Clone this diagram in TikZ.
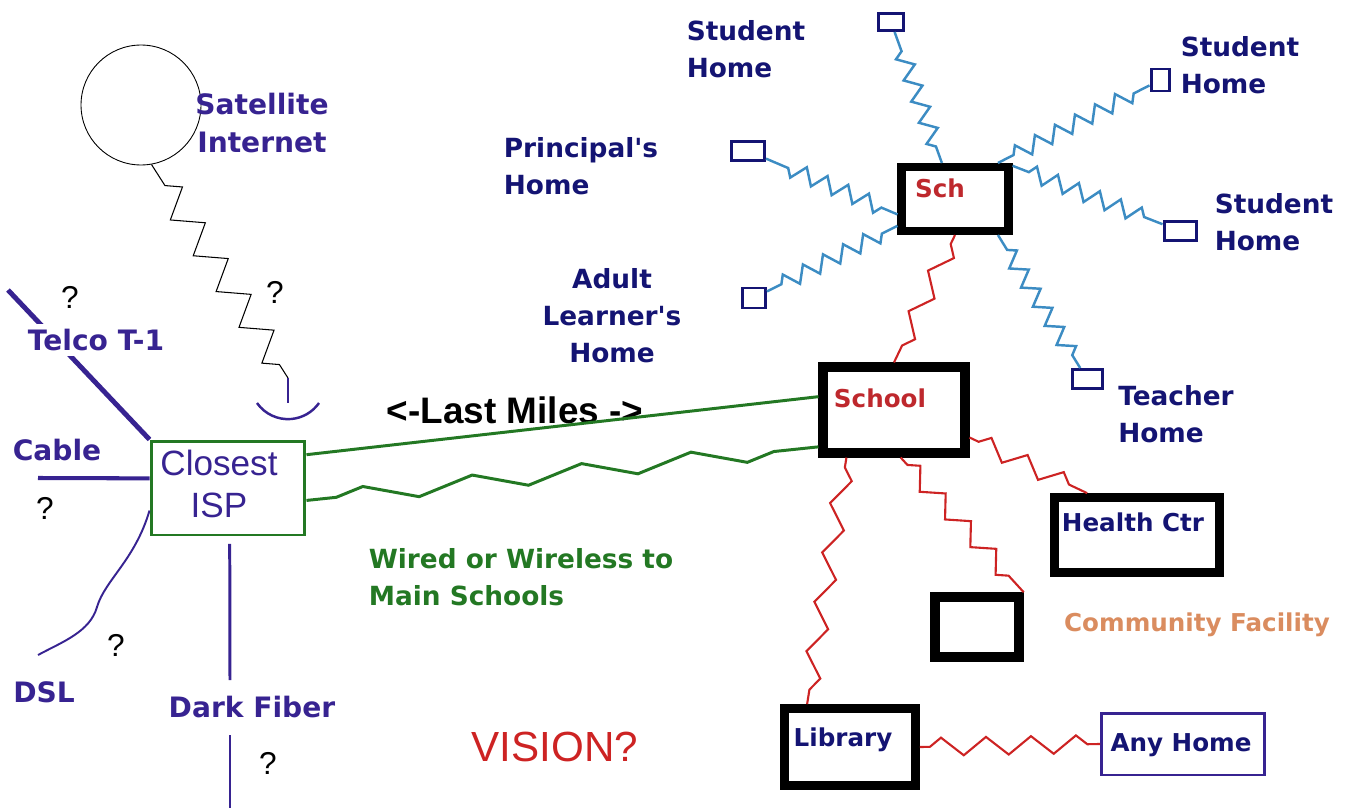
\documentclass[tikz,border=0pt]{standalone}
\usepackage{fontspec}
\setmainfont{DejaVu Sans}[Ligatures=TeXOff]
\newfontfamily\arialfont{Liberation Sans}
\usetikzlibrary{decorations.pathmorphing}
\definecolor{navy}{RGB}{20,20,115}
\definecolor{ispviolet}{RGB}{55,35,145}
\definecolor{linkgreen}{RGB}{35,120,35}
\definecolor{homeblue}{RGB}{60,140,195}
\definecolor{boltred}{RGB}{205,35,35}
\definecolor{schoolred}{RGB}{190,40,45}
\definecolor{facility}{RGB}{218,140,95}

\begin{document}
\begin{tikzpicture}[x = 0.02cm, y = -0.02cm,
		place/.style = {draw, line width = 5pt, inner sep = 0},
		home/.style = {draw = navy, line width = 1.7pt, inner sep = 0},
		tag/.style = {font = \bfseries\fontsize{15}{21}\selectfont, text = navy, align = left, inner sep = 0},
		isptag/.style = {font = \bfseries\fontsize{16}{22}\selectfont, text = ispviolet, inner sep = 1pt},
		boxtag/.style = {font = \bfseries\fontsize{14}{16}\selectfont, inner sep = 0},
		ask/.style = {font = \arialfont\fontsize{18}{18}\selectfont, inner sep = 0},
		wire/.style = {draw = ispviolet},
		homelink/.style = {decorate, draw = homeblue, line width = 1.4pt, decoration = {zigzag, segment length = 0.45cm, amplitude = 0.16cm, pre length = 0.35cm, post length = 0.3cm}},
		bolt/.style = {decorate, draw = boltred, line width = 1.2pt, decoration = {zigzag, segment length = 0.9cm, amplitude = 0.18cm, pre length = 0.2cm, post length = 0.2cm}}
	]
	\useasboundingbox (0, 0) rectangle (1346, 808);

	\node [draw, circle, line width = 0.5pt, minimum size = 2.4cm] (sat) at (141, 105) {};
	\node [isptag, align = center] (satname) at (262, 123) {Satellite\\Internet};
	\coordinate (dishtop) at (288, 378);
	\coordinate (dish) at (288, 403);
	\node [ask] (q1) at (275, 292) {?};

	\node [draw = linkgreen, line width = 1.7pt, minimum width = 3.08cm, minimum height = 1.88cm, inner sep = 0] (isp) at (228, 488) {};
	\node [font = \arialfont\fontsize{20}{24}\selectfont, text = ispviolet, align = center, inner sep = 0] (ispname) at (219, 484) {Closest\\ISP};

	\coordinate (telcoend) at (8, 290);
	\coordinate (cableend) at (38, 478);
	\coordinate (dslmid) at (97, 607);
	\coordinate (dslend) at (38, 655);
	\coordinate (fibtop) at (230, 680);
	\coordinate (fibstart) at (230, 735);
	\coordinate (fibend) at (230, 812);

	\draw [decorate, line width = 0.6pt, decoration = {zigzag, segment length = 0.85cm, amplitude = 0.28cm, pre length = 0.5cm, post length = 0.1cm}] (sat.-80) to (dishtop);
	\draw [wire, line width = 1.4pt] (dishtop) to (dish);
	\draw [wire, line width = 1.4pt] ([xshift = -0.62cm] dish) arc [start angle = 215, end angle = 325, radius = 0.757cm];

	\draw [wire, line width = 2.8pt] (telcoend) to (isp.north west);
	\draw [wire, line width = 2.3pt] (cableend) to (isp.173);
	\draw [wire, line width = 1.1pt] (isp.196) .. controls (135, 560) and (105, 580) .. (dslmid) .. controls (90, 632) and (62, 642) .. (dslend);
	\draw [wire, line width = 1.7pt, shorten <= 0.15cm] (isp.-88) to (fibtop);
	\draw [wire, line width = 1.7pt] (fibstart) to (fibend);

	\node [isptag, fill = white, inner sep = 3pt] (telco) at (96, 340) {Telco T-1};
	\node [ask] (q2) at (70, 297) {?};
	\node [isptag] (cable) at (57, 450) {Cable};
	\node [ask] (q3) at (45, 508) {?};
	\node [ask] (q4) at (116, 645) {?};
	\node [isptag] (dsl) at (44, 692) {DSL};
	\node [isptag] (fiber) at (252, 707) {Dark Fiber};
	\node [ask] (q5) at (268, 763) {?};

	\node [font = \arialfont\bfseries\fontsize{21}{24}\selectfont, inner sep = 0] (lastmiles) at (515, 410) {<-Last Miles ->};
	\node [tag, text = linkgreen] (wired) at (521, 577) {Wired or Wireless to\\Main Schools};
	\node [font = \arialfont\fontsize{24}{26}\selectfont, text = boltred, inner sep = 0] (vision) at (555, 747) {VISION?};

	\node [place, line width = 4.6pt, minimum width = 2.14cm, minimum height = 1.28cm] (sch) at (955, 199) {};
	\node [place, line width = 5.2pt, minimum width = 2.84cm, minimum height = 1.72cm] (school) at (894, 410) {};
	\node [place, minimum width = 3.30cm, minimum height = 1.50cm] (health) at (1137, 535) {};
	\node [place, line width = 5.4pt, minimum width = 1.68cm, minimum height = 1.20cm] (community) at (977, 627) {};
	\node [place, minimum width = 2.62cm, minimum height = 1.54cm] (library) at (850, 747) {};
	\node [draw = ispviolet, line width = 1.7pt, minimum width = 3.26cm, minimum height = 1.24cm, inner sep = 0] (anyhome) at (1183, 744) {};

	\node [boxtag, text = schoolred] (schname) at (940, 188) {Sch};
	\node [boxtag, text = schoolred] (schoolname) at (880, 398) {School};
	\node [boxtag, text = navy] (healthname) at (1133, 522) {Health Ctr};
	\node [boxtag, text = facility] (facilityname) at (1197, 625) {Community Facility};
	\node [boxtag, text = navy] (libraryname) at (843, 740) {Library};
	\node [boxtag, text = navy] (anyhomename) at (1181, 745) {Any Home};

	\node [home, minimum width = 0.50cm, minimum height = 0.34cm] (hs1) at (891, 22) {};
	\node [home, minimum width = 0.36cm, minimum height = 0.44cm] (hs2) at (1160, 80) {};
	\node [home, minimum width = 0.66cm, minimum height = 0.38cm] (hp) at (748, 151) {};
	\node [home, minimum width = 0.64cm, minimum height = 0.38cm] (hs3) at (1180, 231) {};
	\node [home, minimum width = 0.46cm, minimum height = 0.40cm] (ha) at (754, 298) {};
	\node [home, minimum width = 0.60cm, minimum height = 0.38cm] (ht) at (1087, 379) {};

	\node [tag] (hs1name) at (746, 49) {Student\\Home};
	\node [tag] (hs2name) at (1240, 65) {Student\\Home};
	\node [tag] (hpname) at (581, 166) {Principal's\\Home};
	\node [tag] (hs3name) at (1274, 222) {Student\\Home};
	\node [tag, align = center] (haname) at (612, 316) {Adult\\Learner's\\Home};
	\node [tag] (htname) at (1176, 414) {Teacher\\Home};

	\draw [homelink] (sch.110) to (hs1);
	\draw [homelink] (sch.40) to (hs2);
	\draw [homelink] (sch.195) to (hp);
	\draw [homelink] (sch.30) to (hs3);
	\draw [homelink] (sch.205) to (ha);
	\draw [homelink] (sch.-40) to (ht);

	\draw [bolt] (sch.south) to (school.north);
	\draw [bolt, decoration = {segment length = 1cm}] (school.225) to (library.135);
	\draw [bolt, decoration = {segment length = 0.75cm}] (school.-82) to (community.north east);
	\draw [bolt, decoration = {segment length = 0.8cm}] (school.-20) to (health.140);
	\draw [bolt] (library.east) to (anyhome.west);

	\draw [draw = linkgreen, line width = 1.7pt] (isp.23) to (school.170);
	\draw [decorate, draw = linkgreen, line width = 1.7pt, decoration = {zigzag, segment length = 2.2cm, amplitude = 0.16cm, pre length = 0.6cm, post length = 0.4cm}] (isp.-9) to (school.206);
\end{tikzpicture}
\end{document}
